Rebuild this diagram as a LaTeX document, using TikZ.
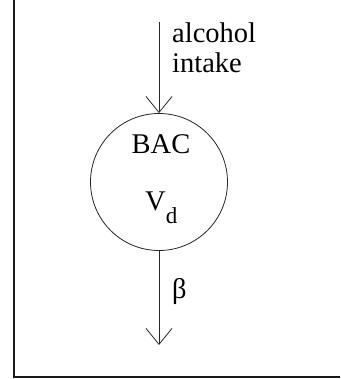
\documentclass[tikz,border=0pt]{standalone}
\usepackage{fontspec}
\setmainfont{Liberation Serif}
\usetikzlibrary{arrows.meta}
\tikzset{
  flow/.style={draw=black!85, line width=0.8pt, -{Straight Barb[length=16pt,width=26pt,line width=0.8pt]}},
  lbl/.style={inner sep=0pt, anchor=base west, font=\fontsize{28.5}{28.5}\selectfont},
  frame/.style={draw=black!90, line width=2pt}
}
\begin{document}
\begin{tikzpicture}[x=1pt,y=-1pt]
\useasboundingbox (0,0) rectangle (340,379);
% frame (left and bottom)
\coordinate (ftop) at (14,0);
\coordinate (fcorner) at (14,377);
\coordinate (fright) at (340,377);
\draw[frame] (ftop) -- (fcorner) -- (fright);
% compartment
\node[draw=black!85, line width=0.8pt, circle, minimum size=137pt, inner sep=0pt] (bac) at (159,182) {};
\node[lbl, anchor=base] (bactxt) at (161,154) {BAC};
\node[lbl] (vd) at (145,210) {V\raisebox{-13pt}{\fontsize{23}{23}\selectfont d}};
% intake
\coordinate (in) at (159,22);
\draw[flow] (in) -- (bac.north);
\node[lbl] (alc) at (172,43) {alcohol};
\node[lbl] (intake) at (172,73) {intake};
% elimination
\coordinate (out) at (159,345);
\draw[flow] (bac.south) -- (out);
\node[lbl] (beta) at (172,298) {β};
\end{tikzpicture}
\end{document}
